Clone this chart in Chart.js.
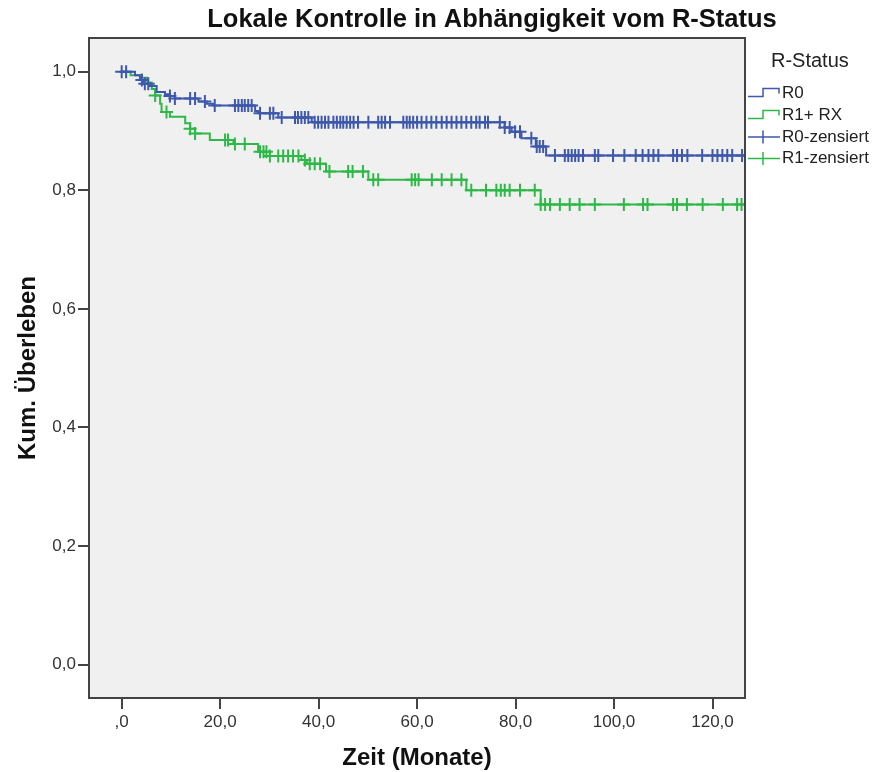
<!DOCTYPE html>
<html>
<head>
<meta charset="utf-8">
<script src="https://cdn.jsdelivr.net/npm/chart.js@4.4.0/dist/chart.umd.min.js"></script>
<style>
  html, body { margin: 0; padding: 0; background: #fff; }
  #wrap { width: 877px; height: 772px; }
</style>
</head>
<body>
<div id="wrap"><canvas id="km"></canvas></div>
<script>
const TITLE = 'Lokale Kontrolle in Abhängigkeit vom R-Status';
const X_TITLE = 'Zeit (Monate)';
const Y_TITLE = 'Kum. Überleben';
const LEGEND_TITLE = 'R-Status';
const GROUP_LABELS = ['R0', 'R1+ RX'];
const CENSOR_LABELS = ['R0-zensiert', 'R1-zensiert'];

const xTicks = [0, 20, 40, 60, 80, 100, 120];
const xTickLabels = [',0', '20,0', '40,0', '60,0', '80,0', '100,0', '120,0'];
const yTicks = [0, 0.2, 0.4, 0.6, 0.8, 1.0];
const yTickLabels = ['0,0', '0,2', '0,4', '0,6', '0,8', '1,0'];

// R0: time of each step and survival after it
const r0Time = [0, 2.7, 3.7, 4.4, 5.7, 7.1, 8.8, 9.8, 10.8, 15.6, 17.3, 18.6, 27.1, 27.7, 31.8, 38.6,
  77.8, 79.2, 81.2, 84.1, 86.2, 126.6];
const r0Surv = [1.0, 0.994, 0.986, 0.980, 0.976, 0.966, 0.962, 0.959, 0.955, 0.950, 0.946, 0.943, 0.934, 0.930, 0.923, 0.915,
  0.906, 0.899, 0.888, 0.874, 0.859, 0.859];

// R1 + RX
const r1Time = [0, 1.8, 4.1, 5.2, 6.1, 6.8, 7.8, 8.1, 9.8, 12.9, 13.9, 14.9, 17.9, 22.7, 27.7, 30.1,
  36.5, 37.6, 41.5, 50.1, 70.0, 85.1, 126.5];
const r1Surv = [1.0, 0.994, 0.990, 0.982, 0.971, 0.960, 0.946, 0.932, 0.924, 0.913, 0.904, 0.896, 0.885, 0.878, 0.865, 0.858,
  0.851, 0.845, 0.832, 0.818, 0.800, 0.776, 0.776];

// censored observations (months)
const r0Censored = [0, 0.9, 4.1, 4.7, 5.4, 9.8, 10.8, 13.9, 14.9, 16.9, 18.9, 23, 23.7, 24.4, 25, 25.7, 26.4,
  28.1, 30.1, 30.8, 32.5, 35.2, 35.8, 36.5, 37.2, 37.9, 39.2, 39.9, 40.6, 41.3, 42, 43, 43.7, 44.4, 45,
  45.7, 46.4, 47.1, 48, 50.1, 52.1, 52.8, 53.5, 54.5, 57.2, 57.9, 58.5, 59.2, 60, 60.9, 61.9, 62.9, 63.9,
  65, 66, 67, 68, 69, 70, 71, 72, 72.7, 73.8, 74.4, 76.8, 77.8, 78.8, 79.9, 80.9, 83.2, 84.3, 84.9, 85.6,
  88, 90, 90.7, 91.4, 92.1, 92.8, 93.7, 96.1, 96.8, 99.8, 102.1, 104.4, 105.8, 107, 108, 109, 112, 112.8,
  113.8, 114.9, 117.9, 120, 121, 122, 123, 124, 126, 126.6];
const r1Censored = [6.8, 9.1, 13.9, 14.9, 21, 21.6, 23, 25, 28.1, 28.8, 29.4, 30.1, 31.8, 32.8, 33.8, 34.8,
  35.9, 37.2, 38.2, 39.2, 40.3, 42.2, 46, 46.9, 49, 51.1, 52.1, 58.9, 59.6, 60.3, 63, 65, 67, 69, 71, 74,
  76.1, 77, 77.8, 78.8, 80.9, 83.9, 85.1, 86, 87, 89, 91, 93, 96.1, 102, 105.9, 106.8, 112, 112.8, 114.8,
  118, 122.1, 125, 125.9];

const BLUE = '#3e58ac';
const GREEN = '#2eb848';
const AXIS = '#444';
const FONT = "'Liberation Sans', Arial, sans-serif";

const toPoints = (ts, ss) => ts.map((t, i) => ({ x: t, y: ss[i] }));

// survival value of the step curve at time t
const survAt = (ts, ss, t) => {
  let v = ss[0];
  for (let i = 0; i < ts.length; i++) {
    if (ts[i] <= t) v = ss[i];
  }
  return v;
};
const censorPoints = (cs, ts, ss) => cs.map((c) => ({ x: c, y: survAt(ts, ss, c) }));

const frame = {
  id: 'frame',
  beforeDraw(chart) {
    const { ctx, chartArea: a } = chart;
    ctx.save();
    ctx.fillStyle = '#fff';
    ctx.fillRect(0, 0, chart.width, chart.height);
    ctx.fillStyle = '#f0f0f0';
    ctx.fillRect(a.left, a.top, a.right - a.left, a.bottom - a.top);
    ctx.restore();
  },
  afterDraw(chart) {
    const { ctx, chartArea: a } = chart;
    ctx.save();
    ctx.strokeStyle = AXIS;
    ctx.lineWidth = 2;
    ctx.strokeRect(a.left, a.top, a.right - a.left, a.bottom - a.top);

    // titles
    ctx.fillStyle = '#111';
    ctx.textAlign = 'center';
    ctx.textBaseline = 'middle';
    ctx.font = 'bold 25.5px ' + FONT;
    ctx.fillText(TITLE, 492, 20);
    ctx.font = 'bold 24px ' + FONT;
    ctx.fillText(X_TITLE, (a.left + a.right) / 2, 758);
    ctx.save();
    ctx.translate(28, (a.top + a.bottom) / 2);
    ctx.rotate(-Math.PI / 2);
    ctx.fillText(Y_TITLE, 0, 0);
    ctx.restore();

    // legend
    ctx.textAlign = 'left';
    ctx.fillStyle = '#222';
    ctx.font = '20px ' + FONT;
    ctx.fillText(LEGEND_TITLE, 771, 61);
    ctx.font = '17px ' + FONT;
    const colors = [BLUE, GREEN];
    ctx.lineWidth = 1.5;
    GROUP_LABELS.forEach((lab, i) => {
      const y = 93 + 22 * i;
      ctx.strokeStyle = colors[i];
      ctx.beginPath();
      ctx.moveTo(748, y + 3.5);
      ctx.lineTo(763, y + 3.5);
      ctx.lineTo(763, y - 4.5);
      ctx.lineTo(779, y - 4.5);
      ctx.lineTo(779, y + 0.5);
      ctx.stroke();
      ctx.fillText(lab, 782, y);
    });
    CENSOR_LABELS.forEach((lab, i) => {
      const y = 137 + 21.5 * i;
      ctx.strokeStyle = colors[i];
      ctx.beginPath();
      ctx.moveTo(748, y);
      ctx.lineTo(780, y);
      ctx.moveTo(763, y - 6.5);
      ctx.lineTo(763, y + 6.5);
      ctx.stroke();
      ctx.fillText(lab, 782, y);
    });
    ctx.restore();
  }
};

const tickFont = { family: FONT, size: 17 };

new Chart(document.getElementById('km'), {
  type: 'scatter',
  data: {
    datasets: [
      {
        label: GROUP_LABELS[0],
        data: toPoints(r0Time, r0Surv),
        showLine: true,
        stepped: 'before',
        borderColor: BLUE,
        borderWidth: 2,
        pointRadius: 0,
        order: 1
      },
      {
        label: GROUP_LABELS[1],
        data: toPoints(r1Time, r1Surv),
        showLine: true,
        stepped: 'before',
        borderColor: GREEN,
        borderWidth: 2,
        pointRadius: 0,
        order: 3
      },
      {
        label: CENSOR_LABELS[0],
        data: censorPoints(r0Censored, r0Time, r0Surv),
        pointStyle: 'cross',
        pointRadius: 6.5,
        borderColor: BLUE,
        borderWidth: 2,
        order: 0
      },
      {
        label: CENSOR_LABELS[1],
        data: censorPoints(r1Censored, r1Time, r1Surv),
        pointStyle: 'cross',
        pointRadius: 6.5,
        borderColor: GREEN,
        borderWidth: 2,
        order: 2
      }
    ]
  },
  options: {
    responsive: true,
    maintainAspectRatio: false,
    animation: false,
    layout: { padding: { top: 38, right: 132, left: 0, bottom: 0 } },
    plugins: {
      legend: { display: false },
      tooltip: { enabled: false }
    },
    scales: {
      x: {
        type: 'linear',
        min: -6.64,
        max: 126.6,
        afterFit(scale) { scale.height = 74; },
        afterBuildTicks(scale) { scale.ticks = xTicks.map((v) => ({ value: v })); },
        ticks: {
          callback: (v, i) => xTickLabels[i],
          font: tickFont,
          color: '#333',
          padding: 3,
          maxRotation: 0,
          autoSkip: false
        },
        grid: { drawOnChartArea: false, tickLength: 11, tickColor: AXIS, lineWidth: 2 },
        border: { color: AXIS, width: 2 }
      },
      y: {
        type: 'linear',
        min: -0.0563,
        max: 1.057,
        afterFit(scale) { scale.width = 89; },
        afterBuildTicks(scale) { scale.ticks = yTicks.map((v) => ({ value: v })); },
        ticks: {
          callback: (v, i) => yTickLabels[i],
          font: tickFont,
          color: '#333',
          padding: 2
        },
        grid: { drawOnChartArea: false, tickLength: 11, tickColor: AXIS, lineWidth: 2 },
        border: { color: AXIS, width: 2 }
      }
    }
  },
  plugins: [frame]
});
</script>
</body>
</html>
